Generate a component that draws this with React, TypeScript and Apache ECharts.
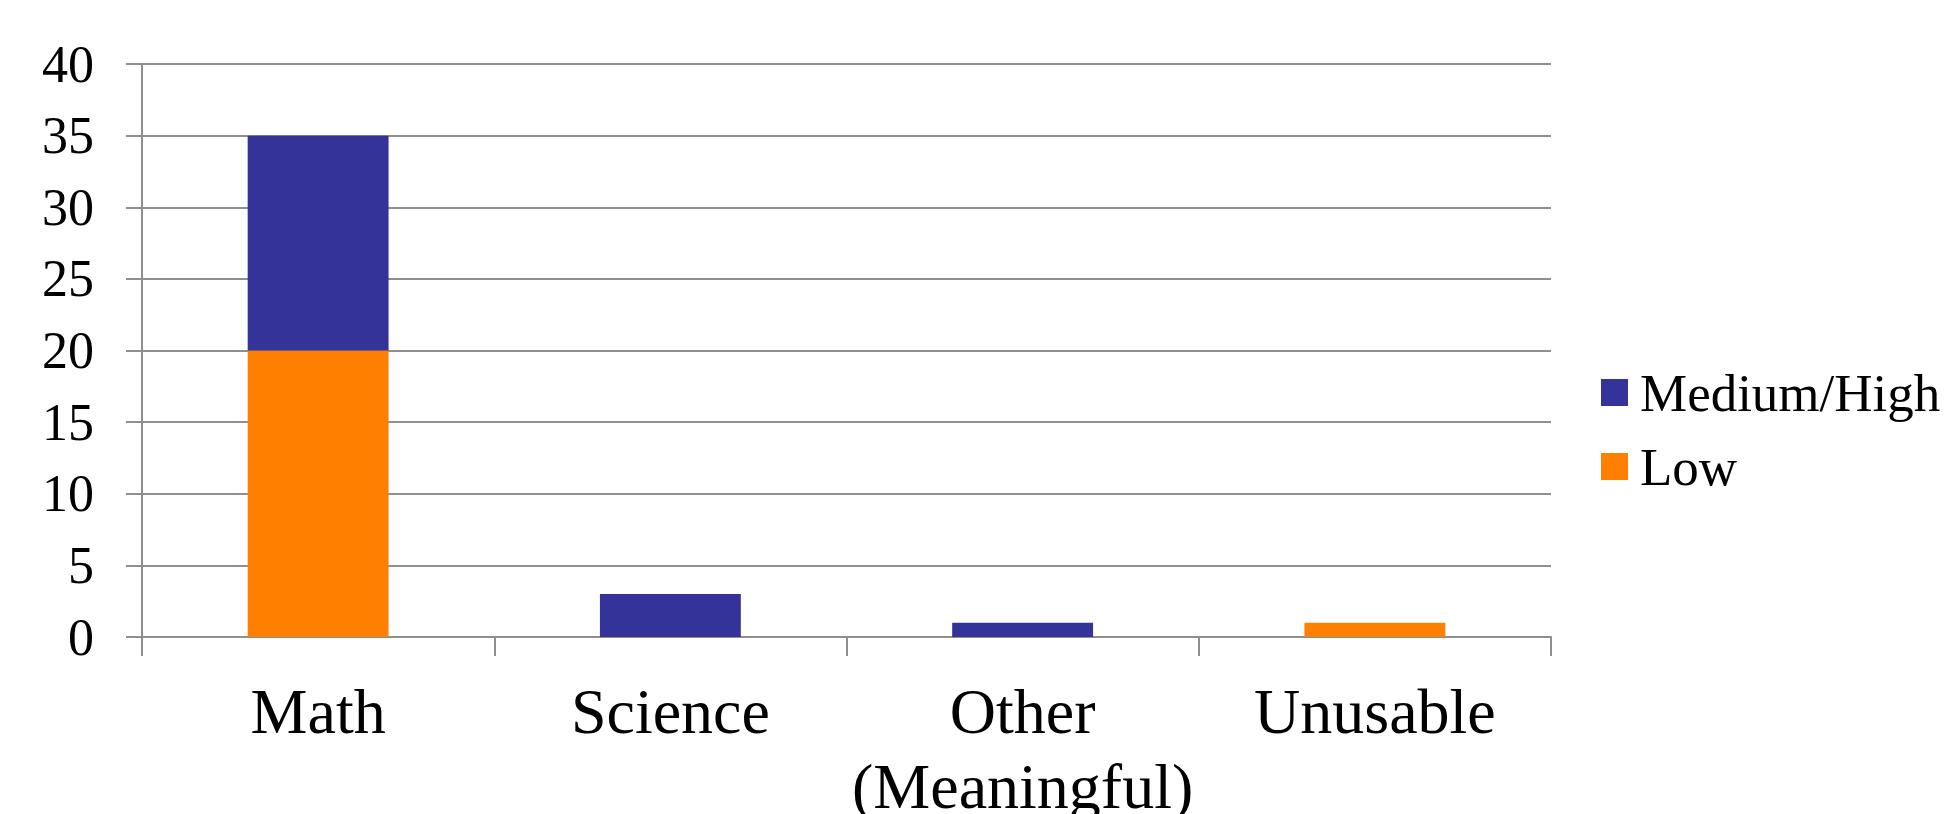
import React, { useEffect, useRef } from "react";
import * as echarts from "echarts";

// Subject categories along the x axis
const categories = ["Math", "Science", "Other\n(Meaningful)", "Unusable"];

// Counts per category, stacked: Low at the bottom, Medium/High on top
const lowValues: (number | string)[] = [20, "-", "-", 1];
const mediumHighValues: (number | string)[] = [15, 3, 1, "-"];

// Value axis ticks
const yMin = 0;
const yMax = 40;
const yStep = 5;

const NAVY = "#333399";
const ORANGE = "#FF8000";
const GRID_GRAY = "#8E8E8E";
const FONT = "'Liberation Serif', 'Times New Roman', serif";

const WIDTH = 1948;
const HEIGHT = 814;

export default function App() {
  const ref = useRef<HTMLDivElement>(null);

  useEffect(() => {
    if (!ref.current) return;
    const chart = echarts.init(ref.current, null, {
      renderer: "svg",
      width: WIDTH,
      height: HEIGHT,
    });
    chart.setOption({
      animation: false,
      backgroundColor: "#ffffff",
      grid: {
        left: 142,
        right: 397,
        top: 64,
        bottom: 177,
        containLabel: false,
        // the second line of a category label may run past the bottom edge
        outerBoundsMode: "none",
      },
      legend: {
        orient: "vertical",
        left: 1601,
        top: 366,
        padding: 0,
        data: ["Medium/High", "Low"],
        icon: "rect",
        itemWidth: 27,
        itemHeight: 27,
        itemGap: 21,
        selectedMode: false,
        textStyle: {
          fontFamily: FONT,
          fontSize: 53,
          lineHeight: 53,
          color: "#000",
          padding: [0, 0, 0, 7],
        },
      },
      xAxis: {
        type: "category",
        data: categories,
        axisLine: { show: true, lineStyle: { color: GRID_GRAY, width: 2 } },
        axisTick: { show: true, length: 19, lineStyle: { color: GRID_GRAY, width: 2 } },
        axisLabel: {
          interval: 0,
          margin: 37,
          fontFamily: FONT,
          fontSize: 64,
          lineHeight: 75,
          color: "#000",
        },
      },
      yAxis: {
        type: "value",
        min: yMin,
        max: yMax,
        interval: yStep,
        axisLine: { show: true, lineStyle: { color: GRID_GRAY, width: 2 } },
        axisTick: { show: true, length: 16, lineStyle: { color: GRID_GRAY, width: 2 } },
        splitLine: { show: true, lineStyle: { color: GRID_GRAY, width: 2 } },
        axisLabel: {
          margin: 48,
          fontFamily: FONT,
          fontSize: 52,
          color: "#000",
        },
      },
      series: [
        {
          name: "Low",
          type: "bar",
          stack: "total",
          barWidth: "40%",
          itemStyle: { color: ORANGE },
          data: lowValues,
        },
        {
          name: "Medium/High",
          type: "bar",
          stack: "total",
          barWidth: "40%",
          itemStyle: { color: NAVY },
          data: mediumHighValues,
        },
      ],
    });
    return () => chart.dispose();
  }, []);

  return (
    <div
      ref={ref}
      style={{ position: "absolute", left: 0, top: 0, width: WIDTH, height: HEIGHT, background: "#fff" }}
    />
  );
}
